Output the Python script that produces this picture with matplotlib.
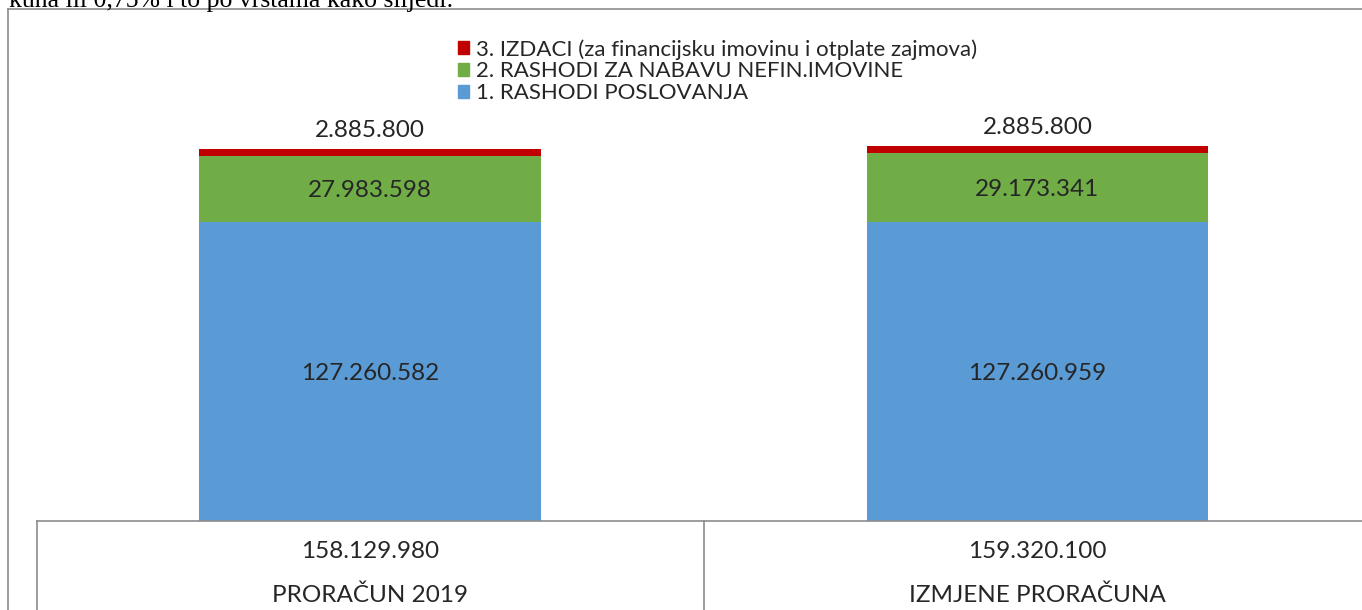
import matplotlib
matplotlib.use("Agg")
from matplotlib import pyplot as plt
from matplotlib.lines import Line2D
from matplotlib.patches import Patch

# data
categories = ["PRORAČUN 2019", "IZMJENE PRORAČUNA"]
rashodi_poslovanja = [127260582, 127260959]
rashodi_nefin = [27983598, 29173341]
izdaci = [2885800, 2885800]
series_names = ["1. RASHODI POSLOVANJA",
                "2. RASHODI ZA NABAVU NEFIN.IMOVINE",
                "3. IZDACI (za financijsku imovinu i otplate zajmova)"]
colors = ["#5B9BD5", "#70AD47", "#C00000"]
top_text = "kuna ili 0,75% i to po vrstama kako slijedi:"

W, H = 1362, 610
plt.rcParams['font.family'] = ['Lato', 'DejaVu Sans']
fig = plt.figure(figsize=(W / 100, H / 100), dpi=100)

def fmt(v):
    return f"{v:,}".replace(",", ".")

# axes placed in pixel coords (y from top)
ax_l, ax_r, ax_b, ax_t = 36.25, 1371.25, 521, 10
ax = fig.add_axes([ax_l / W, (H - ax_b) / H, (ax_r - ax_l) / W, (ax_b - ax_t) / H])
ax.set_xlim(-0.5, 1.5)
ax.set_ylim(0, 217.2e6)
ax.axis("off")

x = list(range(len(categories)))
bw = 0.512
bottoms = [0, 0]
txt_col = "#262626"
fs = 17.5
for vals, col, name in zip([rashodi_poslovanja, rashodi_nefin, izdaci], colors, series_names):
    ax.bar(x, vals, bw, bottom=bottoms, color=col, label=name)
    for i, v in enumerate(vals):
        if col == colors[2]:
            ax.annotate(fmt(v), (x[i], bottoms[i] + v), xytext=(0, 8),
                        textcoords="offset pixels", ha="center", va="bottom",
                        fontsize=fs, color=txt_col)
        else:
            ax.annotate(fmt(v), (x[i], bottoms[i] + v / 2), xytext=(0, -2),
                        textcoords="offset pixels", ha="center", va="center",
                        fontsize=fs, color=txt_col)
    bottoms = [b + v for b, v in zip(bottoms, vals)]

# legend (reverse order)
handles = [Patch(color=c) for c in colors][::-1]
fig.legend(handles, series_names[::-1], loc="upper left",
           bbox_to_anchor=(447 / W, 1 - 28 / H), frameon=False,
           fontsize=16, handlelength=0.5, handleheight=0.5,
           handletextpad=0.3, labelspacing=0.08, borderpad=0, labelcolor=txt_col)

# outer chart border
gray = "#8c8c8c"
def pline(xs, ys):
    fig.add_artist(Line2D([v / W for v in xs], [1 - v / H for v in ys],
                          transform=fig.transFigure, color=gray, lw=1.2))

pline([7.5, 7.5], [H, 9])
pline([7.5, W], [9, 9])
# table under the bars
pline([37, W], [521, 521])
pline([37, 37], [521, H])
pline([703.75, 703.75], [521, H])

totals = [a + b + c for a, b, c in zip(rashodi_poslovanja, rashodi_nefin, izdaci)]
for i, cat in enumerate(categories):
    cx = ax.transData.transform((x[i], 0))[0]
    fig.text(cx / W, 1 - 552 / H, fmt(totals[i]), ha="center", va="center",
             fontsize=fs, color=txt_col)
    fig.text(cx / W, 1 - 595 / H, cat, ha="center", va="center",
             fontsize=fs, color=txt_col)

# text from the page above the chart (cut off)
fig.text(9 / W, 1 - 7 / H, top_text, ha="left", va="baseline",
         fontsize=18.5, family="Liberation Serif", color="black")

fig.savefig("out.png", dpi=100)
